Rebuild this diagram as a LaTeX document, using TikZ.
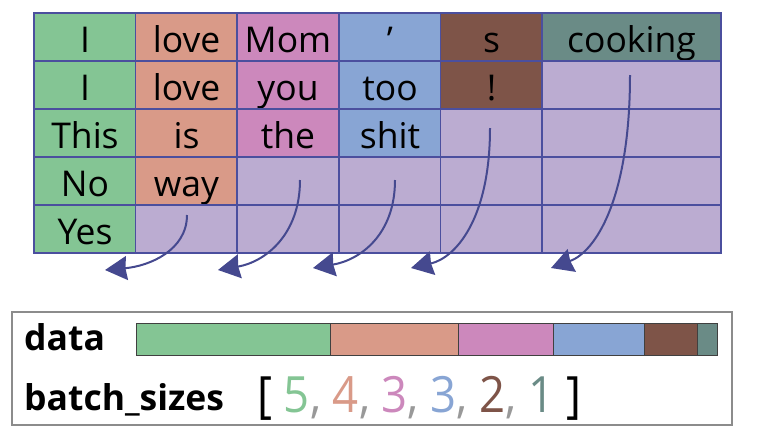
\documentclass[tikz,border=0pt]{standalone}
\usepackage{fontspec}
\setmainfont{Open Sans}
\usepackage{xcolor}
\usetikzlibrary{arrows.meta}

\definecolor{cgreen}{HTML}{84C594}
\definecolor{csalmon}{HTML}{D99A88}
\definecolor{cpink}{HTML}{CC88BC}
\definecolor{cblue}{HTML}{88A5D4}
\definecolor{cbrown}{HTML}{7E5448}
\definecolor{cteal}{HTML}{6A8B86}
\definecolor{cpad}{HTML}{BBACD1}
\definecolor{cgrid}{HTML}{4B4F9E}
\definecolor{carrow}{HTML}{45498F}

\begin{document}
\begin{tikzpicture}[x=1pt,y=-1pt,
    cell/.style={rectangle,draw=cgrid,line width=1.6pt,minimum width=102pt,minimum height=48pt,
                 inner sep=0pt,outer sep=0pt,text height=30pt,text depth=0pt,
                 font=\fontsize{35.5}{35.5}\selectfont},
    widecell/.style={cell,minimum width=179pt},
    pad/.style={fill=cpad},
    seg/.style={rectangle,draw=black!75,line width=0.8pt,anchor=west,minimum height=32pt,
                inner sep=0pt,outer sep=0pt},
    padarrow/.style={carrow,line width=2pt,-{Stealth[length=22pt,width=24pt,inset=1.5pt]}},
    tag/.style={anchor=base west,inner sep=0pt,font=\bfseries\fontsize{35.5}{35.5}\selectfont}]
    \useasboundingbox (0,0) rectangle (757,437);

    % row 1
    \node (c11) at (85,37) [cell,fill=cgreen] {I};
    \node (c12) at (186.5,37) [cell,fill=csalmon] {love};
    \node (c13) at (288,37) [cell,fill=cpink] {Mom};
    \node (c14) at (390,37) [cell,fill=cblue] {'};
    \node (c15) at (491.5,37) [cell,fill=cbrown] {s};
    \node (c16) at (631.5,37) [widecell,fill=cteal] {cooking};
    % row 2
    \node (c21) at (85,85) [cell,fill=cgreen] {I};
    \node (c22) at (186.5,85) [cell,fill=csalmon] {love};
    \node (c23) at (288,85) [cell,fill=cpink] {you};
    \node (c24) at (390,85) [cell,fill=cblue] {too};
    \node (c25) at (491.5,85) [cell,fill=cbrown] {!};
    \node (c26) at (631.5,85) [widecell,pad] {};
    % row 3
    \node (c31) at (85,133) [cell,fill=cgreen] {This};
    \node (c32) at (186.5,133) [cell,fill=csalmon] {is};
    \node (c33) at (288,133) [cell,fill=cpink] {the};
    \node (c34) at (390,133) [cell,fill=cblue] {shit};
    \node (c35) at (491.5,133) [cell,pad] {};
    \node (c36) at (631.5,133) [widecell,pad] {};
    % row 4
    \node (c41) at (85,181) [cell,fill=cgreen] {No};
    \node (c42) at (186.5,181) [cell,fill=csalmon] {way};
    \node (c43) at (288,181) [cell,pad] {};
    \node (c44) at (390,181) [cell,pad] {};
    \node (c45) at (491.5,181) [cell,pad] {};
    \node (c46) at (631.5,181) [widecell,pad] {};
    % row 5
    \node (c51) at (85,229) [cell,fill=cgreen] {Yes};
    \node (c52) at (186.5,229) [cell,pad] {};
    \node (c53) at (288,229) [cell,pad] {};
    \node (c54) at (390,229) [cell,pad] {};
    \node (c55) at (491.5,229) [cell,pad] {};
    \node (c56) at (631.5,229) [widecell,pad] {};

    % where the padding moves to
    \coordinate (s1) at (187,215);
    \coordinate (s2) at (300,180);
    \coordinate (s3) at (395,180);
    \coordinate (s4) at (490,128);
    \coordinate (s5) at (630,75);
    \coordinate (e1) at (105,270);
    \coordinate (e2) at (218,270);
    \coordinate (e3) at (313,268);
    \coordinate (e4) at (411,268);
    \coordinate (e5) at (551,268);

    \draw[padarrow] (s1) .. controls (187,250) and (150,266) .. (e1);
    \draw[padarrow] (s2) .. controls (300,235) and (265,262) .. (e2);
    \draw[padarrow] (s3) .. controls (395,235) and (360,260) .. (e3);
    \draw[padarrow] (s4) .. controls (490,220) and (455,258) .. (e4);
    \draw[padarrow] (s5) .. controls (630,200) and (595,252) .. (e5);

    % packed sequence
    \node (box) at (372,368.5) [rectangle,draw=black!45,line width=1.5pt,minimum width=720pt,minimum height=113pt] {};
    \node (data) at (24,350) [tag] {data};
    \node (d1) at (136,339) [seg,minimum width=194pt,fill=cgreen] {};
    \node (d2) at (d1.east) [seg,minimum width=128pt,fill=csalmon] {};
    \node (d3) at (d2.east) [seg,minimum width=95pt,fill=cpink] {};
    \node (d4) at (d3.east) [seg,minimum width=91pt,fill=cblue] {};
    \node (d5) at (d4.east) [seg,minimum width=53pt,fill=cbrown] {};
    \node (d6) at (d5.east) [seg,minimum width=20pt,fill=cteal] {};

    \node (bs) at (24,410) [tag] {batch\_sizes};
    \node (sizes) at (257,412) [anchor=base west,inner sep=0pt,font=\fontsize{50}{50}\selectfont]
        {\scalebox{0.91}[1]{[ \textcolor{cgreen}{5}\textcolor{black!40}{,} \textcolor{csalmon}{4}\textcolor{black!40}{,}
           \textcolor{cpink}{3}\textcolor{black!40}{,} \textcolor{cblue}{3}\textcolor{black!40}{,}
           \textcolor{cbrown}{2}\textcolor{black!40}{,} \textcolor{cteal}{1} ]}};
\end{tikzpicture}
\end{document}
